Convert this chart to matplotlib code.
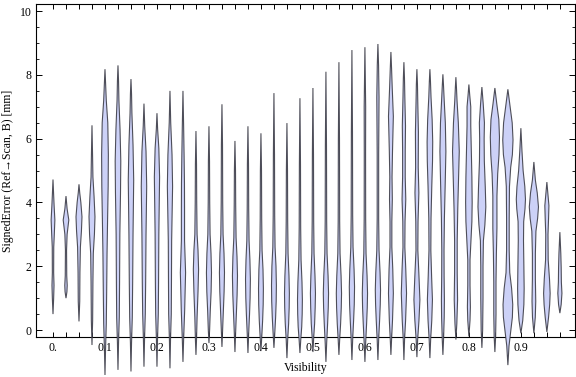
import matplotlib
matplotlib.use("Agg")
import matplotlib.pyplot as plt
import numpy as np

plt.rcParams['font.family'] = ['Liberation Serif', 'DejaVu Serif']

# visibility bins (x positions of the violins)
visibility = np.arange(40) * 0.025

# violin profiles: (signed error [mm], density) from min to max
profiles = [
    [(0.5, 0), (1.0, 0.5), (1.4, 0.9), (1.8, 0.5), (2.6, 0.6), (3.0, 1.2), (3.45, 1.8), (3.9, 1.0), (4.3, 0.4), (4.72, 0)],
    [(1.0, 0), (1.2, 0.8), (1.4, 1.1), (1.7, 0.6), (2.5, 0.4), (3.0, 1.0), (3.45, 2.8), (3.8, 1.0), (4.2, 0)],
    [(0.27, 0), (0.9, 0.6), (1.8, 0.8), (2.6, 1.3), (3.1, 2.4), (3.55, 3.0), (4.0, 1.8), (4.3, 0.6), (4.57, 0)],
    [(-0.47, 0), (0.3, 0.5), (1.5, 0.8), (2.4, 1.2), (3.0, 2.4), (3.55, 3.0), (4.2, 2.0), (4.8, 0.8), (5.5, 0.4), (6.42, 0)],
    [(-1.41, 0), (-0.6, 0.4), (0.2, 1.2), (1.2, 1.6), (2.4, 2.0), (3.5, 2.6), (4.5, 3.2), (5.5, 3.4), (6.5, 2.8), (7.2, 1.2), (7.7, 0.5), (8.18, 0)],
    [(-1.25, 0), (-0.4, 0.4), (0.4, 1.2), (1.5, 1.5), (3.0, 1.8), (4.3, 2.5), (5.3, 2.8), (6.3, 2.0), (7.2, 0.8), (7.8, 0.4), (8.3, 0)],
    [(-1.3, 0), (-0.4, 0.4), (0.4, 1.2), (1.5, 1.6), (3.0, 2.0), (4.7, 2.7), (5.8, 2.0), (6.8, 0.8), (7.4, 0.4), (7.87, 0)],
    [(-1.15, 0), (-0.3, 0.4), (0.5, 1.2), (1.5, 1.6), (3.0, 2.0), (4.5, 2.7), (5.6, 2.0), (6.4, 0.6), (7.1, 0)],
    [(-1.15, 0), (-0.3, 0.4), (0.5, 1.2), (1.5, 1.5), (3.0, 1.8), (4.8, 2.6), (5.7, 1.8), (6.3, 0.5), (6.8, 0)],
    [(-1.2, 0), (-0.3, 0.4), (0.5, 1.2), (1.5, 1.4), (2.8, 1.6), (4.5, 2.6), (5.5, 2.0), (6.5, 0.6), (7.5, 0)],
    [(-1.0, 0), (-0.3, 0.5), (0.6, 1.6), (1.8, 2.6), (2.8, 1.5), (3.8, 1.5), (4.6, 1.4), (5.5, 1.0), (6.4, 0.5), (7.5, 0)],
    [(-0.78, 0), (-0.3, 0.4), (0.4, 1.0), (1.2, 2.0), (1.9, 2.6), (2.5, 2.0), (3.0, 1.0), (4.0, 0.6), (5.2, 0.4), (6.24, 0)],
    [(-0.41, 0), (0.0, 0.5), (0.6, 1.2), (1.2, 2.1), (1.8, 2.5), (2.4, 2.0), (3.0, 1.0), (4.0, 0.6), (5.3, 0.4), (6.39, 0)],
    [(-0.53, 0), (0.0, 0.5), (0.6, 1.3), (1.2, 2.1), (1.8, 2.5), (2.4, 2.0), (3.0, 1.0), (4.0, 0.6), (5.8, 0.4), (7.08, 0)],
    [(-0.69, 0), (-0.1, 0.5), (0.5, 1.3), (1.1, 2.1), (1.7, 2.5), (2.3, 2.0), (2.9, 1.0), (3.9, 0.6), (5.0, 0.4), (5.93, 0)],
    [(-0.72, 0), (-0.1, 0.6), (0.5, 1.5), (1.0, 2.1), (1.6, 2.4), (2.2, 1.9), (2.8, 1.0), (3.8, 0.6), (5.2, 0.4), (6.39, 0)],
    [(-0.66, 0), (-0.2, 0.7), (0.3, 1.6), (0.8, 2.2), (1.3, 2.4), (1.9, 2.0), (2.5, 1.0), (3.5, 0.6), (5.0, 0.4), (6.17, 0)],
    [(-0.56, 0), (-0.1, 0.7), (0.4, 1.6), (0.9, 2.2), (1.4, 2.4), (2.0, 2.0), (2.6, 1.0), (3.6, 0.6), (5.5, 0.4), (7.43, 0)],
    [(-0.88, 0), (-0.3, 0.6), (0.2, 1.6), (0.7, 2.2), (1.15, 2.4), (1.7, 2.0), (2.4, 1.0), (3.4, 0.6), (5.0, 0.4), (6.49, 0)],
    [(-0.72, 0), (-0.3, 0.7), (0.1, 1.7), (0.5, 2.2), (0.95, 2.4), (1.5, 2.0), (2.2, 1.0), (3.2, 0.6), (5.2, 0.4), (7.27, 0)],
    [(-0.69, 0), (-0.2, 0.7), (0.2, 1.6), (0.7, 2.2), (1.15, 2.5), (1.7, 2.0), (2.4, 1.0), (3.4, 0.6), (5.5, 0.4), (7.59, 0)],
    [(-1.0, 0), (-0.4, 0.6), (0.2, 1.6), (0.7, 2.3), (1.15, 2.6), (1.7, 2.1), (2.4, 1.0), (3.4, 0.6), (5.8, 0.4), (8.1, 0)],
    [(-0.78, 0), (-0.3, 0.6), (0.2, 1.6), (0.7, 2.3), (1.15, 2.6), (1.7, 2.1), (2.4, 1.0), (3.4, 0.6), (6.0, 0.4), (8.4, 0)],
    [(-0.94, 0), (-0.3, 0.6), (0.3, 1.6), (0.8, 2.3), (1.35, 2.6), (1.9, 2.1), (2.6, 1.0), (3.6, 0.6), (6.2, 0.4), (8.78, 0)],
    [(-1.0, 0), (-0.4, 0.6), (0.2, 1.6), (0.7, 2.3), (1.15, 2.6), (1.7, 2.1), (2.4, 1.0), (3.5, 0.6), (5.5, 0.5), (7.0, 0.6), (8.87, 0)],
    [(-0.94, 0), (-0.3, 0.6), (0.3, 1.6), (0.8, 2.3), (1.25, 2.6), (1.8, 2.1), (2.5, 1.0), (3.5, 0.6), (5.5, 0.6), (7.3, 1.0), (8.3, 0.5), (8.97, 0)],
    [(-0.78, 0), (-0.3, 0.5), (0.3, 1.5), (1.15, 2.4), (1.9, 1.8), (2.6, 0.8), (3.4, 0.8), (4.1, 1.3), (4.8, 1.0), (5.6, 1.5), (6.7, 2.4), (7.6, 1.2), (8.2, 0.5), (8.72, 0)],
    [(-0.94, 0), (-0.3, 0.5), (0.3, 1.6), (1.15, 2.6), (1.9, 1.8), (2.6, 0.8), (3.4, 1.0), (4.1, 1.8), (4.8, 1.2), (5.6, 1.2), (6.4, 1.5), (7.3, 0.8), (7.9, 0.4), (8.4, 0)],
    [(-0.85, 0), (-0.3, 0.6), (0.3, 2.0), (0.95, 3.0), (1.7, 2.0), (2.5, 0.8), (3.4, 1.0), (4.3, 1.9), (5.1, 1.2), (6.2, 1.4), (7.2, 0.7), (7.7, 0.4), (8.18, 0)],
    [(-0.88, 0), (-0.3, 0.6), (0.3, 1.8), (0.95, 2.5), (1.7, 1.6), (2.5, 0.8), (3.5, 1.0), (4.5, 1.8), (5.3, 2.6), (5.9, 2.8), (6.6, 2.2), (7.3, 1.0), (7.8, 0.4), (8.18, 0)],
    [(-0.78, 0), (-0.3, 0.5), (0.4, 1.2), (0.95, 1.4), (1.7, 1.1), (2.5, 1.0), (3.5, 1.4), (4.5, 2.2), (5.6, 3.0), (6.5, 2.4), (7.2, 1.2), (7.7, 0.4), (8.02, 0)],
    [(-0.3, 0), (0.2, 0.8), (0.95, 1.6), (1.8, 1.2), (2.8, 1.2), (3.8, 1.8), (4.6, 2.5), (5.6, 3.4), (6.5, 2.4), (7.2, 1.0), (7.6, 0.4), (7.93, 0)],
    [(-0.2, 0), (0.3, 1.0), (0.72, 1.4), (1.4, 1.0), (2.2, 1.0), (2.8, 2.0), (3.4, 3.0), (4.0, 3.3), (4.8, 3.0), (5.6, 2.4), (6.4, 1.8), (7.0, 1.8), (7.4, 0.6), (7.7, 0)],
    [(-0.56, 0), (0.0, 0.6), (1.0, 1.0), (2.0, 1.0), (2.8, 1.4), (3.3, 3.0), (3.86, 4.0), (4.5, 3.4), (5.3, 2.4), (6.0, 2.2), (6.5, 2.5), (7.1, 1.2), (7.62, 0)],
    [(-0.69, 0), (-0.2, 0.6), (0.5, 1.0), (1.5, 1.0), (2.4, 1.4), (3.2, 2.0), (4.2, 2.0), (4.9, 2.8), (5.5, 4.2), (6.05, 4.7), (6.6, 4.0), (7.1, 1.8), (7.59, 0)],
    [(-1.1, 0), (-0.5, 1.0), (0.0, 3.0), (0.4, 4.6), (0.8, 5.0), (1.3, 3.8), (1.8, 1.8), (2.5, 1.2), (3.5, 1.2), (4.5, 1.5), (5.1, 2.8), (5.5, 4.6), (5.96, 5.3), (6.5, 4.4), (7.0, 2.2), (7.55, 0)],
    [(-0.1, 0), (0.3, 1.8), (0.8, 3.0), (1.3, 3.3), (2.0, 3.0), (2.8, 2.6), (3.4, 2.8), (3.8, 4.2), (4.1, 4.7), (4.5, 4.0), (5.0, 2.2), (5.6, 1.0), (6.33, 0)],
    [(-0.1, 0), (0.4, 1.3), (0.9, 1.8), (1.6, 1.4), (2.4, 1.4), (3.1, 2.0), (3.5, 3.8), (3.86, 4.7), (4.3, 3.4), (4.7, 1.4), (5.27, 0)],
    [(-0.06, 0), (0.4, 1.6), (0.8, 2.8), (1.15, 3.3), (1.6, 2.6), (2.2, 1.2), (3.0, 1.0), (3.5, 1.6), (3.9, 2.0), (4.3, 0.8), (4.64, 0)],
    [(0.53, 0), (0.8, 1.2), (1.15, 2.0), (1.5, 1.4), (1.96, 1.2), (2.4, 0.8), (3.07, 0)],
]

xlabels = ['0.', '0.1', '0.2', '0.3', '0.4', '0.5', '0.6', '0.7', '0.8', '0.9']

fig = plt.figure(figsize=(5.76, 3.77), dpi=100)
ax = fig.add_axes([0.0625, 0.106, 0.9355, 0.883])

wscale = 0.0018  # density -> half width in x units
for x0, prof in zip(visibility, profiles):
    p = np.array(prof, dtype=float)
    y, w = p[:, 0], p[:, 1] + 0.2
    w[0] = 0
    w[-1] = 0
    xs = np.concatenate([x0 + w * wscale, (x0 - w * wscale)[::-1]])
    ys = np.concatenate([y, y[::-1]])
    ax.fill(xs, ys, facecolor=(0.80, 0.82, 0.97), edgecolor=(0.2, 0.2, 0.24, 0.85),
            linewidth=0.8, clip_on=False, zorder=3)

ax.set_xlim(-0.0327, 1.0038)
ax.set_ylim(-0.22, 10.22)

ax.set_xticks(visibility)
ax.set_xticklabels([xlabels[i // 4] if i % 4 == 0 else '' for i in range(len(visibility))])
ax.set_yticks(np.arange(0, 11, 2))
ax.set_yticks(np.arange(0, 10.01, 0.5), minor=True)
ax.tick_params(axis='x', which='major', direction='in', length=3.5, width=0.7,
               top=True, labelsize=8.5, pad=3.5)
ax.tick_params(axis='y', which='major', direction='in', length=4.5, width=0.7,
               right=True, labelsize=8.5, pad=3)
ax.tick_params(axis='y', which='minor', direction='in', length=2.2, width=0.6, right=True)

for s in ax.spines.values():
    s.set_linewidth(0.8)

ax.set_xlabel('Visibility', fontsize=8.5, labelpad=6)
ax.set_ylabel('SignedError (Ref\u2192Scan, B) [mm]', fontsize=8.5, labelpad=4)

fig.savefig('out.png', dpi=100)
